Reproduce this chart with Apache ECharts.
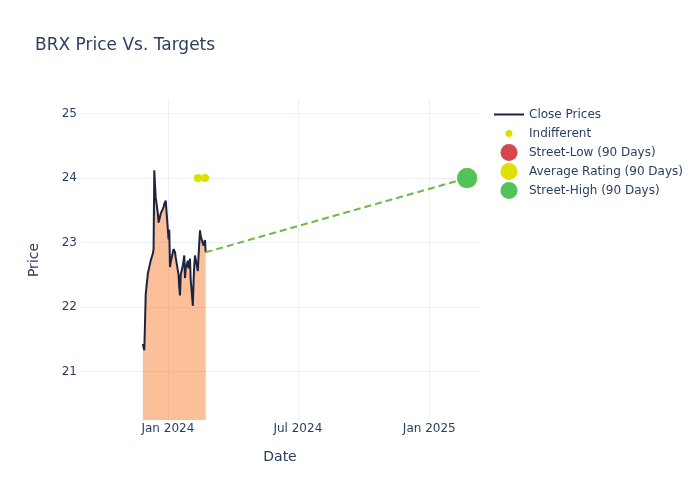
<!DOCTYPE html>
<html>
<head>
<meta charset="utf-8">
<script src="https://cdn.jsdelivr.net/npm/echarts@6/dist/echarts.min.js"></script>
<style>html,body{margin:0;padding:0;background:#fff}#c{width:700px;height:500px}</style>
</head>
<body>
<div id="c"></div>
<script>
const closeDates = ['2023-11-27','2023-11-28','2023-11-29','2023-11-30','2023-12-01',
 '2023-12-04','2023-12-05','2023-12-06','2023-12-07','2023-12-08',
 '2023-12-11','2023-12-12','2023-12-13','2023-12-14','2023-12-15',
 '2023-12-18','2023-12-19','2023-12-20','2023-12-21','2023-12-22',
 '2023-12-26','2023-12-27','2023-12-28','2023-12-29',
 '2024-01-02','2024-01-03','2024-01-04','2024-01-05',
 '2024-01-08','2024-01-09','2024-01-10','2024-01-11','2024-01-12',
 '2024-01-16','2024-01-17','2024-01-18','2024-01-19',
 '2024-01-22','2024-01-23','2024-01-24','2024-01-25','2024-01-26',
 '2024-01-29','2024-01-30','2024-01-31','2024-02-01','2024-02-02',
 '2024-02-05','2024-02-06','2024-02-07','2024-02-08','2024-02-09',
 '2024-02-12','2024-02-13','2024-02-14','2024-02-15','2024-02-16',
 '2024-02-20','2024-02-21','2024-02-22','2024-02-23'];
const closePrices = [21.43,21.38,21.33,21.75,22.2,
 22.52,22.57,22.62,22.67,22.72,
 22.83,22.9,24.12,23.9,23.7,
 23.45,23.31,23.35,23.4,23.45,
 23.55,23.6,23.63,23.65,
 23.05,23.2,22.62,22.7,
 22.85,22.9,22.93,22.85,22.77,
 22.5,22.3,22.18,22.5,
 22.65,22.72,22.8,22.45,22.6,
 22.72,22.6,22.57,22.75,22.42,
 22.02,22.4,22.65,22.8,22.82,
 22.56,22.8,23.0,23.19,23.1,
 22.95,22.98,23.04,22.85];
const indifferentDates = ['2024-02-12','2024-02-22'];
const indifferentValues = [24, 24];
const targetDate = '2025-02-23';
const streetLow = 24;
const averageRating = 24;
const streetHigh = 24;
const xTickDates = ['2024-01-01','2024-07-01','2025-01-01'];
const xTickLabels = ['Jan 2024','Jul 2024','Jan 2025'];
const yTicks = [21, 22, 23, 24, 25];

const ts = s => Date.UTC(+s.slice(0,4), +s.slice(5,7) - 1, +s.slice(8,10));
const xTickTs = xTickDates.map(ts);
const font = 'DejaVu Sans, Verdana, sans-serif';
const txt = '#2a3f5f';
const grid = '#EBF0F8';

const chart = echarts.init(document.getElementById('c'), null, {renderer: 'canvas'});
const lastIdx = closeDates.length - 1;

// legend: icon box 30 wide starting at x=494; circle icons' bounding box starts at 15-r
const legendX = 494;
const smallDot = 7, bigDot = 17;

chart.setOption({
  animation: false,
  backgroundColor: '#fff',
  textStyle: {fontFamily: font},
  title: {
    text: 'BRX Price Vs. Targets', left: 35, top: 37, padding: 0,
    textStyle: {fontFamily: font, fontSize: 17, fontWeight: 'normal', color: txt}
  },
  grid: {left: 80, right: 220, top: 100, bottom: 80},
  legend: [
    {data: [{name: 'Close Prices', icon: 'rect'}], orient: 'vertical', left: legendX, top: 107, padding: 0,
     itemWidth: 30, itemHeight: 2,
     textStyle: {fontFamily: font, fontSize: 12, color: txt, lineHeight: 15}},
    {data: [{name: 'Indifferent', icon: 'circle'}], orient: 'vertical', left: legendX + 15 - smallDot / 2, top: 126, padding: 0,
     itemWidth: 30, itemHeight: smallDot,
     textStyle: {fontFamily: font, fontSize: 12, color: txt, lineHeight: 15}},
    {data: [{name: 'Street-Low (90 Days)', icon: 'circle'}, {name: 'Average Rating (90 Days)', icon: 'circle'}, {name: 'Street-High (90 Days)', icon: 'circle'}],
     orient: 'vertical', left: legendX + 15 - bigDot / 2, top: 144, padding: 0, itemWidth: 30, itemHeight: bigDot, itemGap: 2,
     textStyle: {fontFamily: font, fontSize: 12, color: txt}}
  ],
  xAxis: {
    type: 'value',
    min: ts('2023-08-31'), max: ts('2025-03-13'),
    name: 'Date', nameLocation: 'middle', nameGap: 30,
    nameTextStyle: {fontFamily: font, fontSize: 14, color: txt},
    axisLine: {show: false},
    axisTick: {show: false, customValues: xTickTs},
    axisLabel: {customValues: xTickTs, margin: 3, fontFamily: font, fontSize: 12, color: txt,
      formatter: v => { const i = xTickTs.indexOf(v); return i >= 0 ? xTickLabels[i] : ''; }},
    splitLine: {show: true, lineStyle: {color: grid, width: 1}}
  },
  yAxis: {
    type: 'value', min: 20.25, max: 25.21,
    name: 'Price', nameLocation: 'middle', nameGap: 39,
    nameTextStyle: {fontFamily: font, fontSize: 14, color: txt},
    axisLine: {show: false},
    axisTick: {show: false, customValues: yTicks},
    axisLabel: {customValues: yTicks, margin: 3, fontFamily: font, fontSize: 12, color: txt},
    splitLine: {show: true, lineStyle: {color: grid, width: 1}}
  },
  series: [
    {
      name: 'Close Prices', type: 'line', symbol: 'none',
      data: closeDates.map((d, i) => [ts(d), closePrices[i]]),
      lineStyle: {color: '#1c2440', width: 2},
      itemStyle: {color: '#1c2440'},
      areaStyle: {color: 'rgba(247,127,53,0.5)', opacity: 1, origin: 'start'},
      z: 2
    },
    {
      name: 'Target Trend', type: 'line', symbol: 'none',
      data: [[ts(closeDates[lastIdx]), closePrices[lastIdx]], [ts(targetDate), streetHigh]],
      lineStyle: {color: '#6cbb45', width: 2, type: [7, 4]},
      z: 3
    },
    {
      name: 'Indifferent', type: 'scatter', symbolSize: 8,
      data: indifferentDates.map((d, i) => [ts(d), indifferentValues[i]]),
      itemStyle: {color: '#dede00', opacity: 1}, z: 4
    },
    {
      name: 'Street-Low (90 Days)', type: 'scatter', symbolSize: 20,
      data: [[ts(targetDate), streetLow]], itemStyle: {color: '#d6474f', opacity: 1}, z: 5
    },
    {
      name: 'Average Rating (90 Days)', type: 'scatter', symbolSize: 20,
      data: [[ts(targetDate), averageRating]], itemStyle: {color: '#e0e000', opacity: 1}, z: 6
    },
    {
      name: 'Street-High (90 Days)', type: 'scatter', symbolSize: 20,
      data: [[ts(targetDate), streetHigh]], itemStyle: {color: '#50c35a', opacity: 1}, z: 7
    }
  ]
});
</script>
</body>
</html>
